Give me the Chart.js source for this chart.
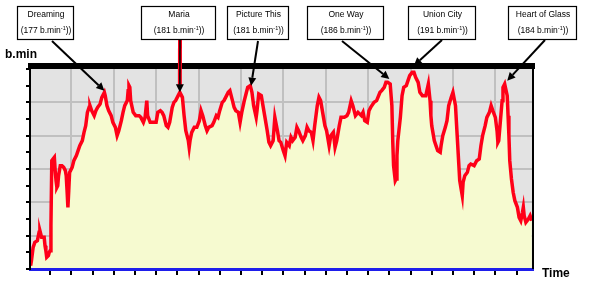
<!DOCTYPE html>
<html><head><meta charset="utf-8">
<script src="https://cdn.jsdelivr.net/npm/chart.js@4/dist/chart.umd.min.js"></script>
<style>html,body{margin:0;padding:0;background:#fff;}canvas{display:block;}</style>
</head><body>
<canvas id="c" width="590" height="291"></canvas>
<script>
// ---- data (time in minutes, heart rate in b.min-1) ----
const times = [0.2,0.3,0.5,0.7,1.0,1.2,1.3,1.5,1.8,1.9,
2.0,2.1,2.3,2.4,2.5,2.6,2.7,3.0,3.1,3.2,
3.3,3.4,3.5,3.7,3.9,4.1,4.3,4.4,4.5,4.6,
4.7,4.8,5.1,5.3,5.6,5.8,6.0,6.3,6.5,6.7,
6.9,7.1,7.2,7.4,7.7,7.9,8.1,8.4,8.6,8.9,
9.0,9.2,9.4,9.7,9.9,10.2,10.4,10.6,10.9,11.1,
11.3,11.6,11.7,11.8,11.9,12.0,12.3,12.6,13.0,13.2,
13.5,13.7,13.9,14.0,14.3,14.6,15.0,15.2,15.5,15.7,
15.9,16.2,16.4,16.6,16.9,17.1,17.3,17.6,17.8,18.1,
18.3,18.5,18.8,18.9,19.0,19.2,19.5,19.8,20.1,20.3,
20.5,20.8,21.0,21.2,21.6,21.8,22.1,22.3,22.5,22.8,
23.0,23.2,23.5,23.7,24.0,24.2,24.4,24.7,24.9,25.1,
25.4,25.6,25.8,26.1,26.3,26.5,26.8,26.9,27.1,27.4,
27.6,27.8,28.1,28.3,28.5,28.8,29.0,29.3,29.5,29.7,
30.0,30.2,30.4,30.7,30.9,31.1,31.4,31.6,31.8,32.1,
32.3,32.6,32.8,33.0,33.3,33.5,33.7,34.0,34.2,34.4,
34.7,34.9,35.1,35.4,35.6,35.9,36.1,36.3,36.6,36.8,
37.2,37.5,37.7,38.0,38.2,38.5,38.8,39.2,39.4,39.6,
39.9,40.1,40.3,40.7,41.0,41.4,41.6,41.9,42.1,42.3,
42.6,42.8,42.9,43.0,43.2,43.3,43.4,43.5,43.8,44.0,
44.2,44.5,44.7,44.9,45.2,45.4,45.6,45.9,46.1,46.4,
46.6,46.8,47.1,47.3,47.4,47.5,47.8,48.0,48.2,48.5,
48.6,48.8,49.1,49.3,49.5,49.8,50.0,50.3,50.5,50.7,
50.8,51.0,51.1,51.2,51.4,51.7,51.9,52.1,52.5,52.8,
53.1,53.3,53.5,53.8,54.0,54.3,54.5,54.7,55.0,55.2,
55.3,55.4,55.6,55.8,55.9,56.1,56.4,56.5,56.6,56.7,
56.9,57.1,57.3,57.6,57.8,58.0,58.2,58.3,58.4,58.6,
58.9,59.1,59.3];

const heartRate = [74,77,85,88,89,94,95,91,91,86,
83,79,80,82,83,98,137,139,131,125,
121,122,128,134,134,133,131,128,119,109,
119,130,133,137,140,143,146,149,154,158,
166,169,170,167,164,167,169,171,175,178,
176,170,167,164,160,157,152,155,161,166,
170,173,179,182,181,173,166,164,164,163,
160,163,173,164,160,160,160,166,167,166,
164,158,157,160,169,172,173,176,178,175,
164,155,149,145,149,154,157,157,161,167,
164,158,155,157,158,160,164,163,167,172,
173,175,178,179,173,169,167,166,160,166,
173,177,181,182,178,170,163,167,177,176,
170,164,155,148,146,149,163,155,149,148,
143,140,148,146,151,149,151,157,155,151,
149,152,157,155,154,149,158,170,175,173,
164,158,155,146,152,154,145,149,158,163,
163,164,166,173,170,164,166,164,166,161,
160,167,169,172,173,178,179,181,184,184,
183,170,149,134,125,126,140,149,163,176,
181,182,185,188,190,190,187,184,178,176,
176,176,183,173,164,158,149,146,143,142,
146,152,157,161,170,175,178,170,152,134,
125,119,116,124,128,130,134,135,134,137,
138,146,152,158,163,166,170,167,163,155,
148,149,161,173,181,183,176,164,152,137,
126,118,113,109,103,101,106,109,104,100,
102,104,101];

// songs and their peak heart rates (annotation arrows point at these data positions)
const songs = ['Dreaming','Maria','Picture This','One Way','Union City','Heart of Glass'];
const songRates = [177,181,181,186,191,184];
const songPeakTimes = [8.9,17.8,26.2,42.5,45.4,56.4];
const songPeakValues = [179,178,182,186,194,185];

// axis ticks
const yTicks = [72,82,92,102,112,122,132,142,152,162,172,182,192];
const yGridTicks = [92,112,132,152,172];
const xTicks = [2.5,5,7.5,10,12.5,15,17.5,20,22.5,25,27.5,30,32.5,35,37.5,40,42.5,45,47.5,50,52.5,55,57.5];
const xGridTicks = [5,10,15,20,25,30,35,40,45,50,55];

// ---- layout for the annotation boxes (pixels) ----
const boxLayout = [
  {l:17,  r:73,  sx:52,  sy:41},
  {l:141, r:215, sx:180, sy:39, red:true},
  {l:227, r:288, sx:258, sy:41},
  {l:307, r:383, sx:342, sy:41},
  {l:408, r:475, sx:442, sy:40},
  {l:508, r:576, sx:545, sy:40}
];
const FONT = '"Liberation Sans", Arial, Helvetica, sans-serif';

function arrow(ctx, x1, y1, x2, y2) {
  const a = Math.atan2(y2 - y1, x2 - x1);
  const head = 8, hw = 4;
  const bx = x2 - head * Math.cos(a), by = y2 - head * Math.sin(a);
  ctx.beginPath(); ctx.moveTo(x1, y1); ctx.lineTo(bx, by); ctx.stroke();
  ctx.beginPath(); ctx.moveTo(x2, y2);
  ctx.lineTo(bx + hw * Math.sin(a), by - hw * Math.cos(a));
  ctx.lineTo(bx - hw * Math.sin(a), by + hw * Math.cos(a));
  ctx.closePath(); ctx.fill();
}

const bgPlugin = {
  id: 'bg',
  beforeDraw(chart) {
    const {ctx, chartArea: ca} = chart;
    ctx.save();
    ctx.fillStyle = '#ffffff';
    ctx.fillRect(0, 0, chart.width, chart.height);
    ctx.fillStyle = 'rgb(227,227,227)';
    ctx.fillRect(ca.left, ca.top, ca.right - ca.left, ca.bottom - ca.top);
    ctx.restore();
  }
};

const notesPlugin = {
  id: 'notes',
  afterDraw(chart) {
    const {ctx, chartArea: ca, scales: {x, y}} = chart;
    ctx.save();
    // top thick bar and right frame
    ctx.fillStyle = '#000';
    ctx.fillRect(ca.left - 2, 63, ca.right - ca.left + 4, 6);
    ctx.fillRect(ca.right - 1, 63, 2, ca.bottom - 63);
    // axis titles
    ctx.font = 'bold 12px ' + FONT;
    ctx.textAlign = 'left';
    ctx.textBaseline = 'alphabetic';
    ctx.fillText('b.min', 5, 58);
    ctx.fillText('Time', 542, 277);

    songs.forEach((name, i) => {
      const b = boxLayout[i];
      const tx = x.getPixelForValue(songPeakTimes[i]);
      const ty = y.getPixelForValue(songPeakValues[i]);
      // arrow
      if (b.red) {
        ctx.strokeStyle = 'rgb(255,0,24)';
        ctx.lineWidth = 4;
        ctx.beginPath(); ctx.moveTo(b.sx, b.sy); ctx.lineTo(tx, ty - 6); ctx.stroke();
        ctx.strokeStyle = '#000'; ctx.fillStyle = '#000';
        ctx.lineWidth = 1.5;
        arrow(ctx, b.sx, b.sy, tx, ty);
      } else {
        ctx.strokeStyle = '#000'; ctx.fillStyle = '#000';
        ctx.lineWidth = 2;
        arrow(ctx, b.sx, b.sy, tx, ty);
      }
      // box
      ctx.fillStyle = '#fff';
      ctx.fillRect(b.l, 6, b.r - b.l, 33);
      ctx.strokeStyle = '#000';
      ctx.lineWidth = 1.2;
      ctx.strokeRect(b.l + 0.5, 6.5, b.r - b.l, 33);
      // text
      const cx = (b.l + b.r) / 2 + 1;
      ctx.fillStyle = '#000';
      ctx.textBaseline = 'middle';
      ctx.font = '8.5px ' + FONT;
      ctx.textAlign = 'center';
      ctx.fillText(name, cx, 15);
      const p1 = '(' + songRates[i] + ' b.min';
      const p2 = '-1';
      const p3 = '))';
      ctx.font = '8.5px ' + FONT;
      const w1 = ctx.measureText(p1).width, w3 = ctx.measureText(p3).width;
      ctx.font = '5.5px ' + FONT;
      const w2 = ctx.measureText(p2).width;
      let sx = cx - (w1 + w2 + w3) / 2;
      ctx.textAlign = 'left';
      ctx.font = '8.5px ' + FONT;
      ctx.fillText(p1, sx, 31);
      ctx.font = '5.5px ' + FONT;
      ctx.fillText(p2, sx + w1, 28.5);
      ctx.font = '8.5px ' + FONT;
      ctx.fillText(p3, sx + w1 + w2, 31);
    });
    ctx.restore();
  }
};

new Chart(document.getElementById('c'), {
  type: 'line',
  data: {
    datasets: [{
      data: times.map((t, i) => ({x: t, y: heartRate[i]})),
      borderColor: 'rgb(255,0,24)',
      borderWidth: 3.5,
      backgroundColor: 'rgb(246,250,208)',
      fill: 'start',
      pointRadius: 0,
      tension: 0
    }]
  },
  options: {
    responsive: false,
    animation: false,
    events: [],
    layout: {padding: {top: 69, right: 57, bottom: 12, left: 0}},
    plugins: {legend: {display: false}, tooltip: {enabled: false}, title: {display: false}},
    scales: {
      x: {
        type: 'linear',
        min: 0.13, max: 59.44,
        afterBuildTicks: s => { s.ticks = xTicks.map(v => ({value: v})); },
        afterFit: s => { s.height = 10; },
        ticks: {display: false},
        grid: {
          color: c => (c.tick && xGridTicks.includes(c.tick.value)) ? 'rgb(192,192,192)' : 'rgba(0,0,0,0)',
          lineWidth: 2,
          tickColor: '#000',
          tickWidth: 2,
          tickLength: 6
        },
        border: {display: true, color: 'rgb(30,30,235)', width: 3, z: 1}
      },
      y: {
        type: 'linear',
        min: 72, max: 192,
        afterBuildTicks: s => { s.ticks = yTicks.map(v => ({value: v})); },
        afterFit: s => { s.width = 30; },
        ticks: {display: false},
        grid: {
          color: c => (c.tick && yGridTicks.includes(c.tick.value)) ? 'rgb(192,192,192)' : 'rgba(0,0,0,0)',
          lineWidth: 2,
          tickColor: '#000',
          tickWidth: 2,
          tickLength: 4
        },
        border: {display: true, color: '#000', width: 2, z: 1}
      }
    }
  },
  plugins: [bgPlugin, notesPlugin]
});
</script>
</body></html>
